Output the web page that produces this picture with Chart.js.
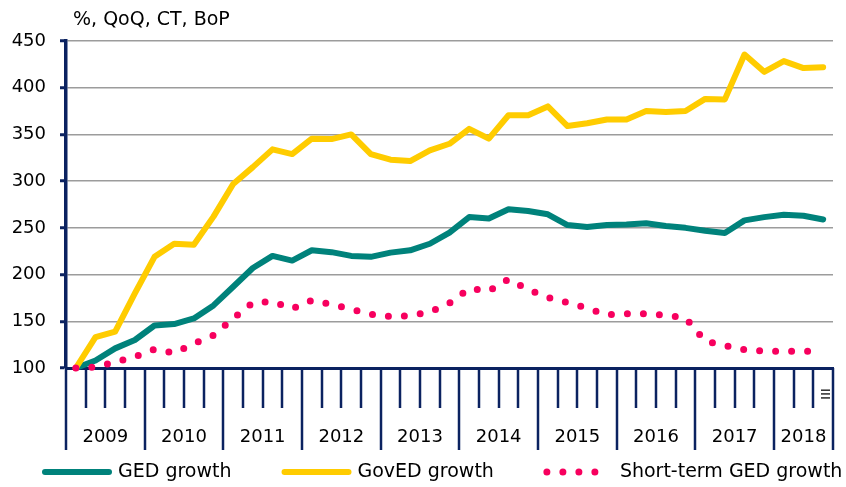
<!DOCTYPE html>
<html>
<head>
<meta charset="utf-8">
<script src="https://cdn.jsdelivr.net/npm/chart.js@4.4.1/dist/chart.umd.min.js"></script>
<style>
  html, body { margin: 0; padding: 0; background: #fff; }
  canvas { display: block; }
</style>
</head>
<body>
<canvas id="chart" width="846" height="487"></canvas>
<script>
const years = ['2009', '2010', '2011', '2012', '2013', '2014', '2015', '2016', '2017', '2018'];
const quartersPerYear = [4, 4, 4, 4, 4, 4, 4, 4, 4, 3];

const gedGrowth = [100, 108, 121, 130, 145.5, 147, 153, 167, 187, 207,
    220, 215, 226, 224, 220, 219, 223.5, 226, 233, 245,
    261.5, 260, 270, 268, 264.5, 253, 251, 253, 253.5, 255,
    252, 250, 247, 244.5, 258, 261.5, 264, 263, 259];
const govedGrowth = [100, 133, 139, 180, 219, 233, 232, 262, 297, 315,
    334, 329, 345.5, 345, 350, 329, 323, 321.5, 333, 340,
    356, 345.5, 370.5, 370.5, 380, 359, 362, 366, 366, 375,
    374, 375, 388, 387.5, 435.5, 417, 428.5, 421, 422];
const shortTermGed = [100, 101, 106.5, 112, 120, 116, 126, 135, 153, 170,
    171, 163.5, 172.5, 168, 163, 157.5, 155, 156, 160, 169.5,
    185, 182.5, 195, 184, 175.5, 170, 164, 157, 158, 158,
    156.5, 153.5, 129, 124, 119.5, 118, 118, 118, 118];

const unitLabel = '%, QoQ, CT, BoP';

// one category per quarter
const quarters = [];
years.forEach((y, i) => {
    for (let q = 1; q <= quartersPerYear[i]; q++) quarters.push(y + ' Q' + q);
});

const navy = '#0b2260';
const fontFamily = 'DejaVu Sans';
Chart.defaults.font.family = fontFamily;
Chart.defaults.font.size = 18;
Chart.defaults.color = '#000';

const axisDecor = {
    id: 'axisDecor',
    afterDraw(chart) {
        const {ctx, chartArea} = chart;
        const x = chart.scales.x;
        const base = chartArea.bottom;
        ctx.save();

        // quarter and year ticks below the axis
        const yearStarts = [];
        let k = 0;
        quartersPerYear.forEach(n => { yearStarts.push(k); k += n; });
        ctx.strokeStyle = navy;
        ctx.lineWidth = 2.5;
        for (let i = 0; i <= quarters.length; i++) {
            const px = Math.round(x.getPixelForValue(i - 0.5));
            const major = yearStarts.includes(i) || i === quarters.length;
            ctx.beginPath();
            ctx.moveTo(px, base);
            ctx.lineTo(px, base + (major ? 82 : 40));
            ctx.stroke();
        }

        // year labels
        ctx.fillStyle = '#000';
        ctx.font = '18px ' + fontFamily;
        ctx.textAlign = 'center';
        ctx.textBaseline = 'middle';
        years.forEach((yr, j) => {
            const mid = x.getPixelForValue(yearStarts[j] + quartersPerYear[j] / 2 - 0.5);
            ctx.fillText(yr, mid, base + 69);
        });

        // small rotated quarter label squeezed into the last slot
        ctx.save();
        ctx.translate(x.getPixelForValue(quarters.length - 1) + 1, base + 26);
        ctx.rotate(Math.PI / 2);
        ctx.font = '13px ' + fontFamily;
        ctx.fillText('III', 0, 0);
        ctx.restore();

        // unit label above the plot
        ctx.font = '19px ' + fontFamily;
        ctx.textAlign = 'left';
        ctx.fillText(unitLabel, chartArea.left + 7, 20);

        // legend
        let lx = 45;
        const ly = 472;
        chart.data.datasets.forEach(ds => {
            ctx.save();
            ctx.strokeStyle = ds.borderColor;
            ctx.lineWidth = ds.borderWidth;
            ctx.lineCap = 'round';
            ctx.setLineDash(ds.borderDash || []);
            ctx.beginPath();
            ctx.moveTo(lx, ly);
            ctx.lineTo(lx + 64, ly);
            ctx.stroke();
            ctx.restore();
            ctx.fillText(ds.label, lx + 73, ly);
            lx += 73 + ctx.measureText(ds.label).width + 53;
        });
        ctx.restore();
    }
};

new Chart(document.getElementById('chart'), {
    type: 'line',
    data: {
        labels: quarters,
        datasets: [{
            label: 'GED growth',
            data: gedGrowth,
            borderColor: '#00827b',
            borderWidth: 6,
            borderCapStyle: 'round',
            borderJoinStyle: 'round',
            order: 2,
        },
        {
            label: 'GovED growth',
            data: govedGrowth,
            borderColor: '#ffcc00',
            borderWidth: 6,
            borderCapStyle: 'round',
            borderJoinStyle: 'round',
            order: 1,
        },
        {
            label: 'Short-term GED growth',
            data: shortTermGed,
            borderColor: '#f7005e',
            borderWidth: 7,
            borderDash: [0, 16],
            borderCapStyle: 'round',
            order: 0,
        }],
    },
    options: {
        responsive: false,
        animation: false,
        pointRadius: 0,
        tension: 0,
        clip: false,
        layout: {
            padding: {top: 41, right: 13, left: 0, bottom: 0},
        },
        plugins: {
            legend: {display: false},
            tooltip: {enabled: false},
        },
        scales: {
            x: {
                type: 'category',
                offset: true,
                grid: {display: false},
                ticks: {display: false},
                border: {color: navy, width: 3},
                afterFit(scale) { scale.height = 119; },
            },
            y: {
                min: 100,
                max: 450,
                ticks: {stepSize: 50, padding: 14, font: {size: 18}},
                grid: {
                    color: c => c.tick.value === 100 ? 'rgba(0,0,0,0)' : '#9c9c9c',
                    lineWidth: 1.5,
                    tickColor: navy,
                    tickWidth: 3,
                    tickLength: 6,
                },
                border: {color: navy, width: 3.5},
                afterFit(scale) { scale.width = 66; },
            },
        },
    },
    plugins: [axisDecor],
});
</script>
</body>
</html>
